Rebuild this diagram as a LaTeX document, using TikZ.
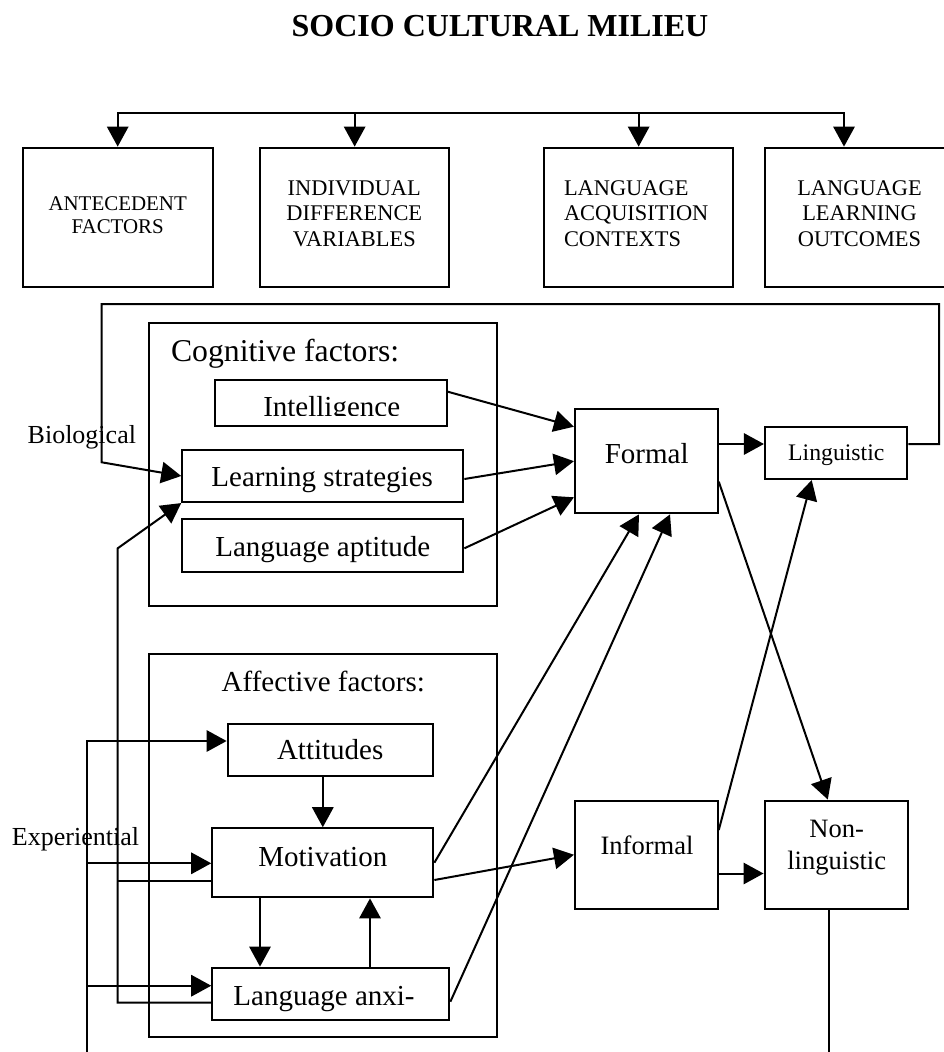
\documentclass[tikz,border=0pt]{standalone}
\usepackage{fontspec}
\setmainfont{Liberation Serif}
\usetikzlibrary{arrows.meta,fit}

\tikzset{
  box/.style={draw,line width=1.6pt,inner sep=0pt},
  lbl/.style={inner sep=0pt,anchor=base,font=\fontsize{21.75}{26}\selectfont},
  caps/.style={lbl,align=center,font=\fontsize{16.8}{19.3}\selectfont},
  side/.style={lbl,anchor=base west,font=\fontsize{19.5}{23}\selectfont}
}

\begin{document}
\begin{tikzpicture}[x=0.75pt,y=-0.75pt,>={Triangle[length=15pt,width=16pt]},line width=1.5pt]
\useasboundingbox (0,0) rectangle (944,1052);

\node[lbl,font=\bfseries\fontsize{24}{28}\selectfont] (title) at (500,36.7) {SOCIO CULTURAL MILIEU};

% top row
\node[box,fit={(22.7,147.7) (212.7,286.7)}] (ante) {};
\node[box,fit={(260,147.7) (449.3,286.7)}] (indiv) {};
\node[box,fit={(544,147.7) (733.3,286.7)}] (acq) {};
\node[box,fit={(765,147.7) (954.5,286.7)}] (outc) {};
\node[caps,font=\fontsize{15.7}{17}\selectfont] (ante-t) at (117.7,233.3) {ANTECEDENT\\FACTORS};
\node[caps] (indiv-t) at (354.3,246.7) {INDIVIDUAL\\DIFFERENCE\\VARIABLES};
\node[caps,align=left] (acq-t) at (636.2,246.7) {LANGUAGE\\ACQUISITION\\CONTEXTS};
\node[caps] (outc-t) at (859.5,246.7) {LANGUAGE\\LEARNING\\OUTCOMES};

\coordinate (busL) at (117.7,112.7);
\coordinate (busR) at (844,112.7);
\draw[<->] (ante.north) -- (busL) -- (busR) -- (busR |- outc.north);
\draw[->] (busL -| indiv.north) -- (indiv.north);
\draw[->] (busL -| acq.north) -- (acq.north);

% cognitive factors
\node[box,fit={(149,322.7) (497,606)}] (cogn) {};
\node[lbl,anchor=base west,font=\fontsize{23.8}{28}\selectfont] (cogn-t) at (170,361.7) {Cognitive factors:};
\node[box,fit={(215,380) (446.7,425.7)}] (intel) {};
\begin{scope}
\clip (215,380) rectangle (446.7,415);
\node[lbl] (intel-t) at (331.7,416) {Intelligence};
\end{scope}
\node[box,fit={(182.3,450) (463.3,502)}] (learn) {};
\node[lbl] (learn-t) at (322.2,486.7) {Learning strategies};
\node[box,fit={(182.3,519.3) (463.3,571.7)}] (apt) {};
\node[lbl] (apt-t) at (322.8,556.7) {Language aptitude};

% contexts and outcomes
\node[box,fit={(575,409) (717.7,513.3)}] (formal) {};
\node[lbl] (formal-t) at (646.7,463.3) {Formal};
\node[box,fit={(765,426.7) (907.3,479)}] (ling) {};
\node[lbl,font=\fontsize{17.8}{21}\selectfont] (ling-t) at (836.3,460) {Linguistic};
\node[box,fit={(575,800.6) (717.7,908.9)}] (inf) {};
\node[lbl,font=\fontsize{19.9}{24}\selectfont] (inf-t) at (647,854.4) {Informal};
\node[box,fit={(764.6,800.6) (907.6,908.9)}] (nonling) {};
\node[lbl,align=center,font=\fontsize{19.9}{24.2}\selectfont] (nonling-t) at (836.7,869.3) {Non-\\linguistic};

% affective factors
\node[box,fit={(149,654) (496.7,1036.7)}] (affect) {};
\node[lbl] (affect-t) at (323.3,691.7) {Affective factors:};
\node[box,fit={(227.7,724) (433.3,775.7)}] (att) {};
\node[lbl] (att-t) at (330.2,759.3) {Attitudes};
\node[box,fit={(212.3,828.3) (433.3,897.3)}] (motiv) {};
\node[lbl] (motiv-t) at (322.8,866) {Motivation};
\node[box,fit={(212.3,967.7) (449.3,1020)}] (anx) {};
\node[lbl] (anx-t) at (324,1005) {Language anxi-};

% antecedent labels
\node[side] (bio) at (26.7,443.3) {Biological};
\node[side] (exper) at (11,845) {Experiential};

% biological loop back from outcomes
\coordinate (loopA) at (939,304);
\coordinate (loopB) at (101.7,462.3);
\draw[->] (ling.east |- 0,444) -| (loopA) -| (loopB) -- (learn.west);

% cognitive -> formal
\draw[->] (intel.east |- 0,391.7) -- (formal.west |- 0,426.7);
\draw[->] (learn.east |- 0,479) -- (formal.west);
\draw[->] (apt.east |- 0,548.3) -- (formal.west |- 0,497.3);

% contexts -> outcomes
\draw[->] (formal.east |- 0,444) -- (ling.west |- 0,444);
\draw[->] (formal.east |- 0,481.7) -- (nonling.north -| 827.8,0);
\draw[->] (inf.east |- 0,830) -- (ling.south -| 811.7,0);
\draw[->] (inf.east |- 0,873.5) -- (nonling.west |- 0,873.5);
\coordinate (nlEnd) at (828.8,1060);
\draw (nonling.south -| nlEnd) -- (nlEnd);

% within affective factors
\draw[->] (att.south -| motiv.north) -- (motiv.north);
\draw[->] (motiv.south -| 260,0) -- (anx.north -| 260,0);
\draw[->] (anx.north -| 370,0) -- (motiv.south -| 370,0);

% affective -> contexts
\draw[->] (motiv.east |- 0,862.7) -- (formal.south -| 639,0);
\draw[->] (motiv.east |- 0,880) -- (inf.west);
\draw[->] (anx.east |- 0,1001.7) -- (formal.south -| 670,0);

% affective -> learning strategies
\coordinate (backA) at (117.7,1002.7);
\coordinate (backB) at (117.7,548.3);
\draw[->] (anx.west |- backA) -- (backA) -- (backB) -- (learn.south west);
\draw (motiv.west |- 0,881) -- (117.7,881);

% experiential
\coordinate (expTop) at (86.7,741);
\coordinate (expBot) at (86.7,1060);
\draw[->] (expBot) -- (expTop) -- (att.west |- expTop);
\draw[->] (expTop |- 0,863.3) -- (motiv.west |- 0,863.3);
\draw[->] (expTop |- 0,985.7) -- (anx.west |- 0,985.7);
\end{tikzpicture}
\end{document}
